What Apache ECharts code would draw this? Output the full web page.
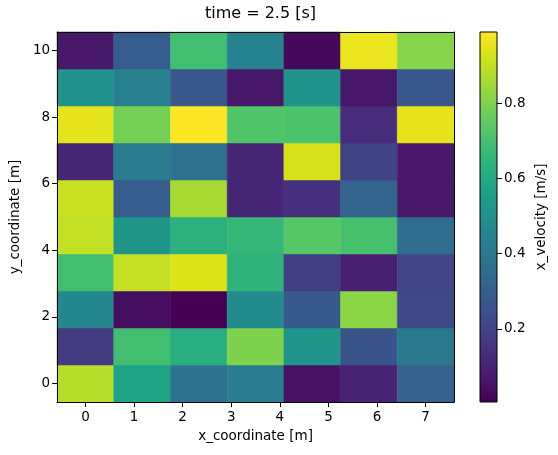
<!DOCTYPE html>
<html>
<head>
<meta charset="utf-8">
<script src="https://cdn.jsdelivr.net/npm/echarts@6/dist/echarts.min.js"></script>
<style>
  html, body { margin: 0; padding: 0; background: #ffffff; }
  #chartHeat { width: 558px; height: 455px; }
</style>
</head>
<body>
<div id="chartHeat"></div>
<script>
// cell centres (7 columns x 10 rows)
const xCoords = [0, 1.167, 2.333, 3.5, 4.667, 5.833, 7];
const yCoords = [0, 1.111, 2.222, 3.333, 4.444, 5.556, 6.667, 7.778, 8.889, 10];
// x_velocity values, one row per y, from y = 0 up to y = 10
const velocityRows = [
  [0.88, 0.58, 0.38, 0.42, 0.05, 0.10, 0.31],
  [0.17, 0.69, 0.62, 0.80, 0.52, 0.26, 0.40],
  [0.46, 0.04, 0.005, 0.48, 0.28, 0.82, 0.22],
  [0.69, 0.90, 0.94, 0.64, 0.18, 0.09, 0.21],
  [0.90, 0.52, 0.63, 0.66, 0.73, 0.70, 0.35],
  [0.91, 0.29, 0.86, 0.11, 0.14, 0.32, 0.07],
  [0.11, 0.41, 0.37, 0.11, 0.93, 0.20, 0.07],
  [0.95, 0.78, 0.99, 0.72, 0.71, 0.13, 0.95],
  [0.50, 0.43, 0.27, 0.07, 0.51, 0.07, 0.27],
  [0.07, 0.29, 0.69, 0.44, 0.03, 0.96, 0.81],
];
const xTicks = [0, 1, 2, 3, 4, 5, 6, 7];
const yTicks = [0, 2, 4, 6, 8, 10];
const cbarTicks = [0.2, 0.4, 0.6, 0.8];

// viridis
const viridis = [
  "#440154", "#471365", "#482475", "#463480", "#414487", "#3b528b", "#355f8d",
  "#2f6c8e", "#2a788e", "#25848e", "#21918c", "#1e9c89", "#22a884", "#2fb47c",
  "#44bf70", "#5ec962", "#7ad151", "#9bd93c", "#bddf26", "#dfe318", "#fde725",
];

const dx = xCoords[1] - xCoords[0];
const dy = yCoords[1] - yCoords[0];

// 拼出 [x, y, value]
const cells = [];
velocityRows.forEach((row, j) => {
  row.forEach((v, i) => cells.push([xCoords[i], yCoords[j], v]));
});
const allValues = velocityRows.flat();
const vmin = Math.min(...allValues);
const vmax = Math.max(...allValues);

const font = "DejaVu Sans";
const fs = 13.5;
const frameAxis = {
  axisLine: { show: true, onZero: false, lineStyle: { color: "#000", width: 1 } },
  axisTick: { show: false },
  axisLabel: { show: false },
  splitLine: { show: false },
  z: 5,
};

const option = {
  animation: false,
  textStyle: { fontFamily: font, color: "#000" },
  title: {
    text: "time = 2.5 [s]",
    left: 255.5,
    top: 1,
    textAlign: "center",
    textStyle: { fontFamily: font, fontSize: 16, fontWeight: "normal", color: "#000" },
  },
  grid: [
    { left: 57, top: 32, width: 397, height: 370 },
    { left: 480, top: 32, width: 17, height: 370 },
  ],
  visualMap: {
    show: false,
    type: "continuous",
    seriesIndex: 0,
    dimension: 2,
    min: vmin,
    max: vmax,
    inRange: { color: viridis },
  },
  xAxis: [
    {
      type: "value",
      gridIndex: 0,
      min: xCoords[0] - dx / 2,
      max: xCoords[xCoords.length - 1] + dx / 2,
      name: "x_coordinate [m]",
      nameLocation: "middle",
      nameGap: 27,
      nameTextStyle: { fontFamily: font, fontSize: fs, color: "#000" },
      axisLine: { show: true, onZero: false, lineStyle: { color: "#000", width: 1 } },
      axisTick: { show: true, length: 5, customValues: xTicks, lineStyle: { color: "#000" } },
      axisLabel: { customValues: xTicks, fontSize: fs, color: "#000", margin: 8, fontFamily: font },
      splitLine: { show: false },
      z: 5,
    },
    Object.assign({
      type: "value",
      gridIndex: 0,
      position: "top",
      min: xCoords[0] - dx / 2,
      max: xCoords[xCoords.length - 1] + dx / 2,
    }, frameAxis),
    {
      type: "value",
      gridIndex: 1,
      min: 0,
      max: 1,
      show: false,
    },
  ],
  yAxis: [
    {
      type: "value",
      gridIndex: 0,
      min: yCoords[0] - dy / 2,
      max: yCoords[yCoords.length - 1] + dy / 2,
      name: "y_coordinate [m]",
      nameLocation: "middle",
      nameRotate: 90,
      nameGap: 33,
      nameTextStyle: { fontFamily: font, fontSize: fs, color: "#000" },
      axisLine: { show: true, onZero: false, lineStyle: { color: "#000", width: 1 } },
      axisTick: { show: true, length: 5, customValues: yTicks, lineStyle: { color: "#000" } },
      axisLabel: { customValues: yTicks, fontSize: fs, color: "#000", margin: 7, fontFamily: font },
      splitLine: { show: false },
      z: 5,
    },
    Object.assign({
      type: "value",
      gridIndex: 0,
      position: "right",
      min: yCoords[0] - dy / 2,
      max: yCoords[yCoords.length - 1] + dy / 2,
    }, frameAxis),
    {
      type: "value",
      gridIndex: 1,
      position: "right",
      min: vmin,
      max: vmax,
      name: "x_velocity [m/s]",
      nameLocation: "middle",
      nameRotate: 90,
      nameGap: 37,
      nameTextStyle: { fontFamily: font, fontSize: fs, color: "#000" },
      axisLine: { show: false, onZero: false },
      axisTick: { show: true, length: 5, customValues: cbarTicks, lineStyle: { color: "#000" } },
      axisLabel: {
        customValues: cbarTicks,
        fontSize: fs,
        color: "#000",
        margin: 7,
        fontFamily: font,
        formatter: (v) => v.toFixed(1),
      },
      splitLine: { show: false },
    },
  ],
  series: [
    {
      type: "custom",
      xAxisIndex: 0,
      yAxisIndex: 0,
      data: cells,
      renderItem: (params, api) => {
        const x = api.value(0);
        const y = api.value(1);
        const p0 = api.coord([x - dx / 2, y + dy / 2]);
        const p1 = api.coord([x + dx / 2, y - dy / 2]);
        return {
          type: "rect",
          shape: { x: p0[0], y: p0[1], width: p1[0] - p0[0], height: p1[1] - p0[1] },
          style: { fill: api.visual("color"), stroke: api.visual("color"), lineWidth: 0.5 },
        };
      },
    },
    {
      // 色条
      type: "custom",
      xAxisIndex: 2,
      yAxisIndex: 2,
      data: [[0, vmin, vmax]],
      renderItem: (params, api) => {
        const p0 = api.coord([0, api.value(2)]);
        const p1 = api.coord([1, api.value(1)]);
        const stops = viridis.map((c, k) => ({ offset: k / (viridis.length - 1), color: c }));
        return {
          type: "rect",
          shape: { x: p0[0], y: p0[1], width: p1[0] - p0[0], height: p1[1] - p0[1] },
          style: {
            fill: new echarts.graphic.LinearGradient(0, 1, 0, 0, stops),
            stroke: "#000",
            lineWidth: 1,
          },
        };
      },
    },
  ],
};

const myChart = echarts.init(document.getElementById("chartHeat"));
myChart.setOption(option);
window.addEventListener("resize", () => {
  myChart.resize();
});
</script>
</body>
</html>
